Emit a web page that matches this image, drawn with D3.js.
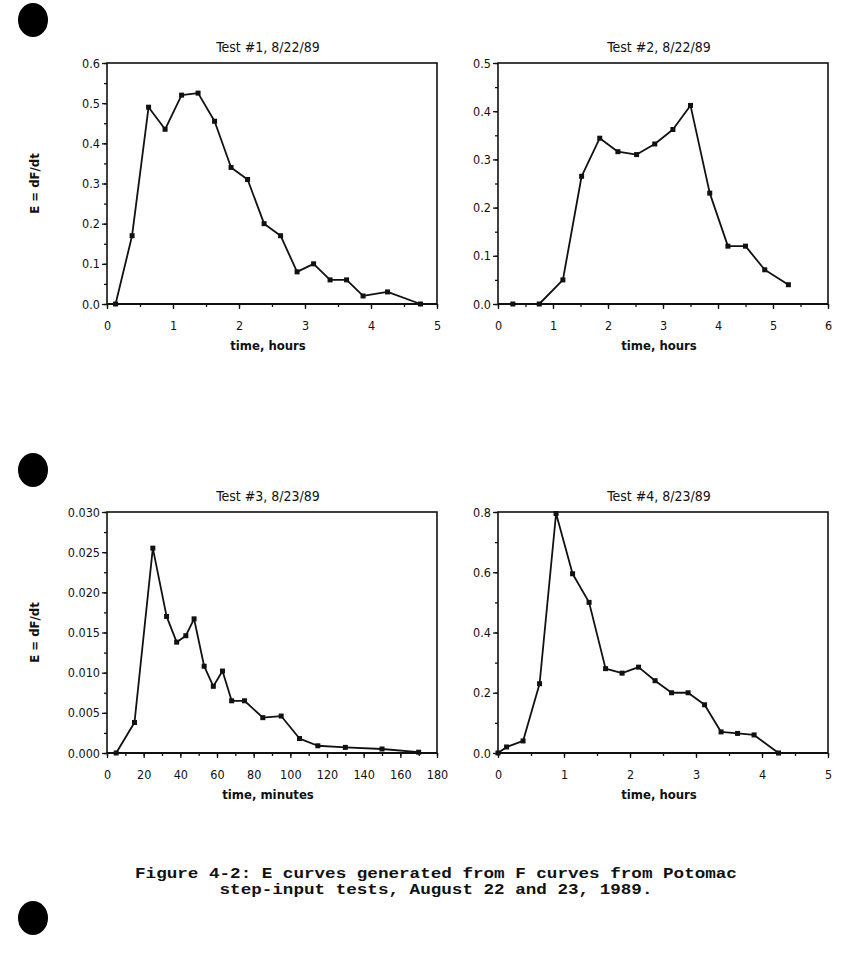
<!DOCTYPE html>
<html>
<head>
<meta charset="utf-8">
<script src="https://cdn.jsdelivr.net/npm/d3@7"></script>
<style>
  body { margin: 0; background: #fff; }
  svg { display: block; }
  .axis text { font-family: "DejaVu Sans", sans-serif; font-stretch: condensed; font-size: 12.5px; fill: #111; }
  .axis path, .axis line { stroke: #111; }
  .ptitle { font-family: "DejaVu Sans", sans-serif; font-stretch: condensed; font-size: 14px; fill: #111; }
  .alabel { font-family: "DejaVu Sans", sans-serif; font-stretch: condensed; font-weight: bold; font-size: 13px; fill: #111; }
  .caption { font-family: "Liberation Mono", "DejaVu Sans Mono", monospace; font-weight: bold; font-size: 14px; fill: #111; }
</style>
</head>
<body>
<div id="chart"></div>
<script>
// Test #1, 8/22/89 (hours)
var t1Hours = [0.13, 0.38, 0.63, 0.88, 1.13, 1.38, 1.63, 1.88, 2.13, 2.38, 2.63, 2.88, 3.13, 3.38, 3.63, 3.88, 4.25, 4.75];
var t1E     = [0, 0.17, 0.49, 0.435, 0.52, 0.525, 0.455, 0.34, 0.31, 0.20, 0.17, 0.08, 0.10, 0.06, 0.06, 0.02, 0.03, 0];

// Test #2, 8/22/89 (hours)
var t2Hours = [0.27, 0.75, 1.18, 1.52, 1.85, 2.18, 2.52, 2.85, 3.18, 3.5, 3.85, 4.18, 4.5, 4.85, 5.28];
var t2E     = [0, 0, 0.05, 0.265, 0.344, 0.316, 0.31, 0.332, 0.362, 0.412, 0.23, 0.12, 0.12, 0.071, 0.04];

// Test #3, 8/23/89 (minutes)
var t3Minutes = [5, 15, 25, 32.5, 38, 43, 47.5, 53, 58, 63, 68, 75, 85, 95, 105, 115, 130, 150, 170];
var t3E       = [0, 0.0038, 0.0255, 0.017, 0.0138, 0.0146, 0.0167, 0.0108, 0.0083, 0.0102, 0.0065, 0.0065, 0.0044, 0.0046, 0.0018, 0.0009, 0.0007, 0.0005, 0.0001];

// Test #4, 8/23/89 (hours)
var t4Hours = [0, 0.13, 0.38, 0.63, 0.88, 1.13, 1.38, 1.63, 1.88, 2.13, 2.38, 2.63, 2.88, 3.13, 3.38, 3.63, 3.88, 4.25];
var t4E     = [0, 0.02, 0.04, 0.23, 0.795, 0.595, 0.50, 0.28, 0.265, 0.285, 0.24, 0.20, 0.20, 0.16, 0.07, 0.065, 0.06, 0];

var panelTitles = ['Test #1, 8/22/89', 'Test #2, 8/22/89', 'Test #3, 8/23/89', 'Test #4, 8/23/89'];
var xTitles = ['time, hours', 'time, hours', 'time, minutes', 'time, hours'];
var yTitle = 'E = dF/dt';
var captionLines = ['Figure 4-2: E curves generated from F curves from Potomac',
                    'step-input tests, August 22 and 23, 1989.'];

var W = 850, H = 965;
var svg = d3.select('#chart').append('svg').attr('width', W).attr('height', H);

// binder hole punches
[20, 470, 918].forEach(function (cy) {
  svg.append('ellipse').attr('cx', 33).attr('cy', cy).attr('rx', 15).attr('ry', 17).attr('fill', '#000');
});

var panels = [
  {left: 107, top: 63, xs: t1Hours, ys: t1E, xMax: 5, xMajor: 1, xMinor: 0.5, yMax: 0.6, yMajor: 0.1, yMinor: 0.05, fmt: '.1f'},
  {left: 498, top: 63, xs: t2Hours, ys: t2E, xMax: 6, xMajor: 1, xMinor: 0.5, yMax: 0.5, yMajor: 0.1, yMinor: 0.05, fmt: '.1f'},
  {left: 107, top: 512, xs: t3Minutes, ys: t3E, xMax: 180, xMajor: 20, xMinor: 10, yMax: 0.03, yMajor: 0.005, yMinor: 0.0025, fmt: '.3f'},
  {left: 498, top: 512, xs: t4Hours, ys: t4E, xMax: 5, xMajor: 1, xMinor: 0.5, yMax: 0.8, yMajor: 0.2, yMinor: 0.1, fmt: '.1f'}
];
var pw = 330, ph = 241;

function steps(max, step) {
  var out = [];
  var n = Math.round(max / step);
  for (var i = 0; i <= n; i++) out.push(+(i * step).toFixed(6));
  return out;
}

panels.forEach(function (p, i) {
  var g = svg.append('g').attr('transform', 'translate(' + p.left + ',' + p.top + ')');
  var x = d3.scaleLinear().domain([0, p.xMax]).range([0, pw]);
  var y = d3.scaleLinear().domain([0, p.yMax]).range([ph, 0]);

  // minor ticks
  g.append('g').attr('class', 'axis').attr('transform', 'translate(0,' + ph + ')')
    .call(d3.axisBottom(x).tickValues(steps(p.xMax, p.xMinor)).tickSize(3).tickFormat(''))
    .select('.domain').remove();
  g.append('g').attr('class', 'axis')
    .call(d3.axisLeft(y).tickValues(steps(p.yMax, p.yMinor)).tickSize(3).tickFormat(''))
    .select('.domain').remove();

  // major ticks and labels
  var xa = g.append('g').attr('class', 'axis').attr('transform', 'translate(0,' + ph + ')')
    .call(d3.axisBottom(x).tickValues(steps(p.xMax, p.xMajor)).tickSize(5).tickPadding(12).tickFormat(d3.format('d')));
  xa.select('.domain').remove();
  var ya = g.append('g').attr('class', 'axis')
    .call(d3.axisLeft(y).tickValues(steps(p.yMax, p.yMajor)).tickSize(5).tickPadding(2).tickFormat(d3.format(p.fmt)));
  ya.select('.domain').remove();
  g.selectAll('.axis line').attr('stroke-width', 1.3);

  // frame
  g.append('rect').attr('width', pw).attr('height', ph)
    .attr('fill', 'none').attr('stroke', '#111').attr('stroke-width', 1.6);
  g.append('line').attr('x1', 0).attr('x2', pw).attr('y1', ph).attr('y2', ph)
    .attr('stroke', '#111').attr('stroke-width', 2.2);

  var pts = p.xs.map(function (v, k) { return [v, p.ys[k]]; });
  var line = d3.line().x(function (d) { return x(d[0]); }).y(function (d) { return y(d[1]); });
  g.append('path').datum(pts).attr('d', line)
    .attr('fill', 'none').attr('stroke', '#111').attr('stroke-width', 1.8).attr('stroke-linejoin', 'round');
  g.selectAll('rect.pt').data(pts).enter().append('rect').attr('class', 'pt')
    .attr('x', function (d) { return x(d[0]) - 2.5; })
    .attr('y', function (d) { return y(d[1]) - 2.5; })
    .attr('width', 5).attr('height', 5).attr('fill', '#111');

  g.append('text').attr('class', 'ptitle').attr('x', pw / 2 - 4).attr('y', -11)
    .attr('text-anchor', 'middle').text(panelTitles[i]);
  g.append('text').attr('class', 'alabel').attr('x', pw / 2 - 4).attr('y', ph + 46)
    .attr('text-anchor', 'middle').text(xTitles[i]);
  if (p.left < 200) {
    g.append('text').attr('class', 'alabel')
      .attr('transform', 'translate(' + (35 - p.left + 4) + ',' + (ph / 2) + ') rotate(-90)')
      .attr('text-anchor', 'middle').text(yTitle);
  }
});

// typewriter caption, stretched to the wide courier look of the scan
var charW = 10.56;
svg.selectAll('text.caption').data(captionLines).enter().append('text')
  .attr('class', 'caption')
  .attr('x', 436)
  .attr('y', function (d, i) { return 878 + i * 16; })
  .attr('text-anchor', 'middle')
  .attr('textLength', function (d) { return d.length * charW; })
  .attr('lengthAdjust', 'spacingAndGlyphs')
  .text(function (d) { return d; });
</script>
</body>
</html>
